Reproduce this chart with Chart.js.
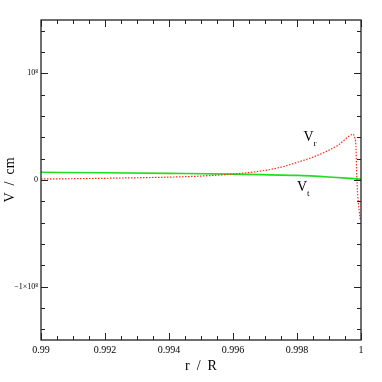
<!DOCTYPE html>
<html>
<head>
<meta charset="utf-8">
<script src="https://cdn.jsdelivr.net/npm/chart.js@4"></script>
<style>
html,body{margin:0;padding:0;background:#fff;}
#wrap{width:382px;height:382px;}
</style>
</head>
<body>
<div id="wrap"><canvas id="c" width="382" height="382"></canvas></div>
<script>
// r / R positions
const rVr = [0.99, 0.991, 0.992, 0.993, 0.994, 0.995, 0.996, 0.9965, 0.997, 0.9975, 0.998, 0.9985, 0.999, 0.9993, 0.9995, 0.9996, 0.9997, 0.99975, 0.9998, 0.99984, 0.99986, 0.99988, 0.9999, 0.99994, 0.99998];
// V_r values (cm units)
const vr = [0.010e8, 0.012e8, 0.016e8, 0.021e8, 0.027e8, 0.037e8, 0.056e8, 0.070e8, 0.090e8, 0.120e8, 0.165e8, 0.215e8, 0.280e8, 0.330e8, 0.380e8, 0.405e8, 0.425e8, 0.430e8, 0.400e8, 0.320e8, 0.120e8, -0.050e8, -0.150e8, -0.280e8, -0.380e8];
const rVt = [0.99, 0.992, 0.994, 0.996, 0.998, 0.999, 1.0];
const vt = [0.072e8, 0.068e8, 0.062e8, 0.055e8, 0.043e8, 0.028e8, 0.008e8];
const xTickLabels = {0.99:'0.99', 0.992:'0.992', 0.994:'0.994', 0.996:'0.996', 0.998:'0.998', 1:'1'};
const yTickLabels = {'-100000000':'\u22121\u00d710\u2078', '0':'0', '100000000':'10\u2078'};
const seriesLabels = [
  {main:'V', sub:'r', r:0.99820, v:0.40e8},
  {main:'V', sub:'t', r:0.99800, v:-0.07e8}
];

const serif = "'Liberation Serif','DejaVu Serif',serif";

const frameTicks = {
  id:'frameTicks',
  afterDraw(chart){
    const {ctx, chartArea:a, scales:{x,y}} = chart;
    ctx.save();
    ctx.strokeStyle = '#222';
    ctx.lineWidth = 1.3;
    ctx.strokeRect(a.left, a.top, a.right-a.left, a.bottom-a.top);
    ctx.lineWidth = 1;
    // x ticks
    for (let i=0;i<=20;i++){
      const v = 0.99 + i*0.0005;
      const p = Math.round(x.getPixelForValue(v))+0.5;
      const len = (i%4===0)?7:4;
      ctx.beginPath();
      ctx.moveTo(p,a.bottom); ctx.lineTo(p,a.bottom-len);
      ctx.moveTo(p,a.top); ctx.lineTo(p,a.top+len);
      ctx.stroke();
    }
    for (let i=-7;i<=7;i++){
      const v = i*0.2e8;
      const p = Math.round(y.getPixelForValue(v))+0.5;
      const len = (i%5===0)?7:4;
      ctx.beginPath();
      ctx.moveTo(a.left,p); ctx.lineTo(a.left+len,p);
      ctx.moveTo(a.right,p); ctx.lineTo(a.right-len,p);
      ctx.stroke();
    }
    // series labels
    ctx.fillStyle = '#000';
    ctx.textBaseline = 'middle';
    for (const s of seriesLabels){
      const px = x.getPixelForValue(s.r), py = y.getPixelForValue(s.v);
      ctx.font = '14px ' + serif;
      ctx.textAlign = 'left';
      ctx.fillText(s.main, px, py);
      const w = ctx.measureText(s.main).width;
      ctx.font = '9px ' + serif;
      ctx.fillText(s.sub, px + w, py + 6);
    }
    ctx.restore();
  }
};

const data = {
  datasets: [
    {
      label:'V_r',
      data: rVr.map((r,i)=>({x:r, y:vr[i]})),
      borderColor:'#ff2a1a',
      borderWidth:1.2,
      borderDash:[1.5,1.5],
      pointRadius:0,
      cubicInterpolationMode:'monotone'
    },
    {
      label:'V_t',
      data: rVt.map((r,i)=>({x:r, y:vt[i]})),
      borderColor:'#22dd22',
      borderWidth:1.6,
      pointRadius:0,
      cubicInterpolationMode:'monotone'
    }
  ]
};

new Chart(document.getElementById('c'), {
  type:'line',
  data,
  options:{
    responsive:false,
    animation:false,
    events:[],
    layout:{padding:{top:20, right:21, left:0, bottom:0}},
    plugins:{legend:{display:false}, tooltip:{enabled:false}},
    scales:{
      x:{
        type:'linear', min:0.99, max:1.0,
        afterBuildTicks(s){ s.ticks = Object.keys(xTickLabels).map(k=>({value:parseFloat(k)})); },
        afterFit(s){ s.height = 42; },
        grid:{display:false, drawTicks:false},
        border:{display:false},
        ticks:{
          autoSkip:false, maxRotation:0, padding:4,
          color:'#000', font:{family:serif, size:10},
          callback:(v)=> xTickLabels[+v.toFixed(4)] ?? ''
        },
        title:{display:true, text:'r  /  R', color:'#000', font:{family:serif, size:14}, padding:{top:0, bottom:7}}
      },
      y:{
        type:'linear', min:-1.5e8, max:1.5e8,
        afterBuildTicks(s){ s.ticks = [-1e8,0,1e8].map(v=>({value:v})); },
        afterFit(s){ s.width = 41; },
        grid:{display:false, drawTicks:false},
        border:{display:false},
        ticks:{
          autoSkip:false, padding:3,
          color:'#000', font:{family:serif, size:8},
          callback:(v)=> yTickLabels[String(Math.round(v))] ?? ''
        },
        title:{display:true, text:'V  /  cm', color:'#000', font:{family:serif, size:14}, padding:{top:2, bottom:0}}
      }
    }
  },
  plugins:[frameTicks]
});
</script>
</body>
</html>
